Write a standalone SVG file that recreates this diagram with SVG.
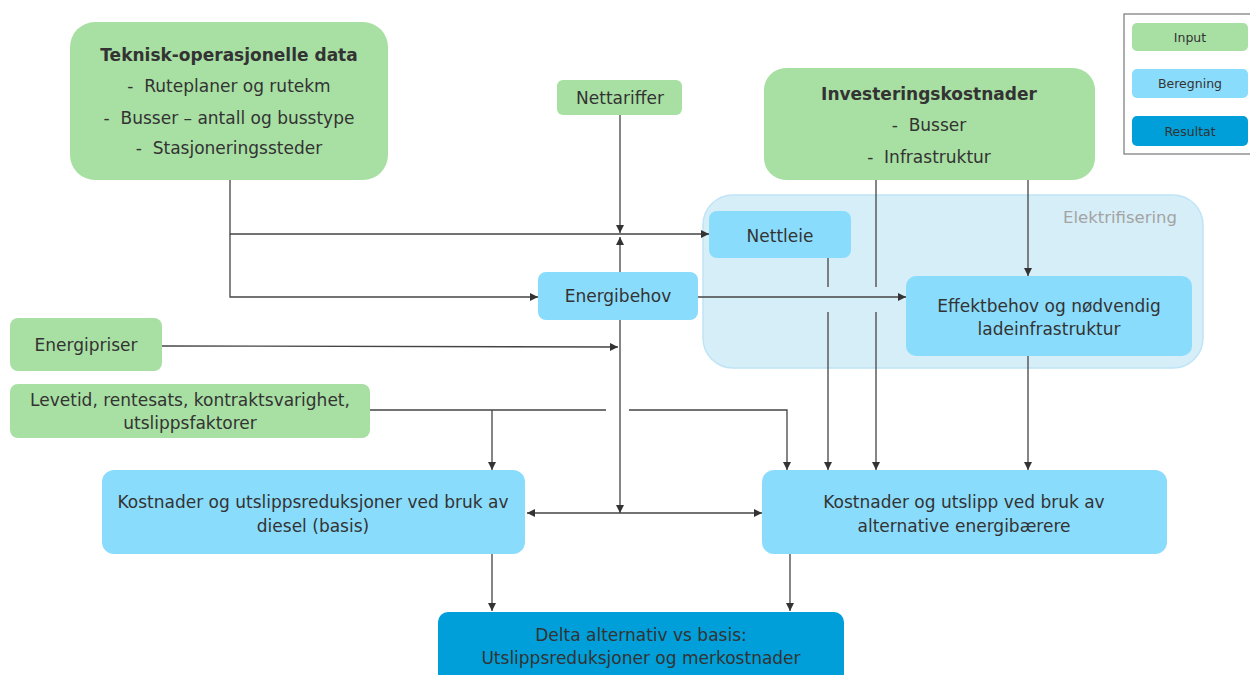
<svg xmlns="http://www.w3.org/2000/svg" width="1250" height="675" viewBox="0 0 1250 675">
<defs>
<marker id="ah" viewBox="0 0 10 10" refX="10" refY="5" markerWidth="9" markerHeight="8" markerUnits="userSpaceOnUse" orient="auto">
<path d="M0,0 L10,5 L0,10 z" fill="#333"/>
</marker>
<style>
text{font-family:"DejaVu Sans",Verdana,sans-serif;fill:#333;text-anchor:middle;font-size:17px}
.in{fill:#a8dfa3}
.be{fill:#8adcfc}
.re{fill:#009fd9}
.b{font-weight:bold}
.lg{font-size:12.5px}
.c path{fill:none;stroke:#444;stroke-width:1.3}
.c .a{marker-end:url(#ah)}
</style>
</defs>
<rect width="1250" height="675" fill="#fff"/>

<g id="group-elektrifisering">
<rect x="703" y="195" width="500" height="173" rx="30" fill="#d6eef8" stroke="#bfe4f6" stroke-width="1.5"/>
<text x="1177" y="223" style="text-anchor:end;fill:#a3a3a3;font-size:16.5px">Elektrifisering</text>
</g>

<g id="legend">
<rect x="1124" y="14" width="128" height="140" fill="#fff" stroke="#777" stroke-width="1.2"/>
<rect class="in" x="1132" y="23" width="116" height="28" rx="5"/>
<text class="lg" x="1190" y="42">Input</text>
<rect class="be" x="1132" y="69" width="116" height="29" rx="5"/>
<text class="lg" x="1190" y="88">Beregning</text>
<rect class="re" x="1132" y="116" width="116" height="30" rx="5"/>
<text class="lg" x="1190" y="136">Resultat</text>
</g>

<g id="teknisk">
<rect class="in" x="70" y="22" width="318" height="158" rx="25"/>
<text class="b" x="229" y="61">Teknisk-operasjonelle data</text>
<text x="229" y="92">-&#160; Ruteplaner og rutekm</text>
<text x="229" y="124">-&#160; Busser – antall og busstype</text>
<text x="229" y="154">-&#160; Stasjoneringssteder</text>
</g>

<g id="nettariffer">
<rect class="in" x="557" y="80" width="125" height="35" rx="6"/>
<text x="620" y="104">Nettariffer</text>
</g>

<g id="investering">
<rect class="in" x="764" y="68" width="331" height="112" rx="22"/>
<text class="b" x="929" y="100">Investeringskostnader</text>
<text x="929" y="131">-&#160; Busser</text>
<text x="929" y="163">-&#160; Infrastruktur</text>
</g>

<g id="nettleie">
<rect class="be" x="709" y="211" width="142" height="47" rx="8"/>
<text x="780" y="242">Nettleie</text>
</g>

<g id="energibehov">
<rect class="be" x="538" y="272" width="160" height="48" rx="8"/>
<text x="618" y="302">Energibehov</text>
</g>

<g id="effektbehov">
<rect class="be" x="906" y="276" width="286" height="80" rx="10"/>
<text x="1049" y="312">Effektbehov og nødvendig</text>
<text x="1049" y="335">ladeinfrastruktur</text>
</g>

<g id="energipriser">
<rect class="in" x="10" y="318" width="152" height="53" rx="8"/>
<text x="86" y="351">Energipriser</text>
</g>

<g id="levetid">
<rect class="in" x="10" y="384" width="360" height="54" rx="8"/>
<text x="190" y="406">Levetid, rentesats, kontraktsvarighet,</text>
<text x="190" y="429">utslippsfaktorer</text>
</g>

<g id="diesel">
<rect class="be" x="102" y="470" width="423" height="84" rx="12"/>
<text x="313" y="508">Kostnader og utslippsreduksjoner ved bruk av</text>
<text x="313" y="532">diesel (basis)</text>
</g>

<g id="alternativ">
<rect class="be" x="762" y="470" width="405" height="84" rx="12"/>
<text x="964" y="508">Kostnader og utslipp ved bruk av</text>
<text x="964" y="532">alternative energibærere</text>
</g>

<g id="delta">
<rect class="re" x="438" y="612" width="406" height="75" rx="10"/>
<text x="641" y="641">Delta alternativ vs basis:</text>
<text x="641" y="664">Utslippsreduksjoner og merkostnader</text>
</g>

<g id="connectors" class="c">
<path d="M230,180 V234 H709" class="a"/>
<path d="M230,234 V297 H538" class="a"/>
<path d="M620,115 V233" class="a"/>
<path d="M620,272 V237" class="a"/>
<path d="M620,320 V513" class="a"/>
<path d="M620,513 H527" class="a"/>
<path d="M620,513 H762" class="a"/>
<path d="M162,346 L618,347" class="a"/>
<path d="M370,410 H606"/>
<path d="M492,410 V470" class="a"/>
<path d="M629,410 H787 V470" class="a"/>
<path d="M698,297 H906" class="a"/>
<path d="M828,258 V287"/>
<path d="M828,312 V470" class="a"/>
<path d="M876,180 V287"/>
<path d="M876,312 V470" class="a"/>
<path d="M1028,180 V276" class="a"/>
<path d="M1028,356 V470" class="a"/>
<path d="M492,554 V611" class="a"/>
<path d="M790,554 V611" class="a"/>
</g>
</svg>
